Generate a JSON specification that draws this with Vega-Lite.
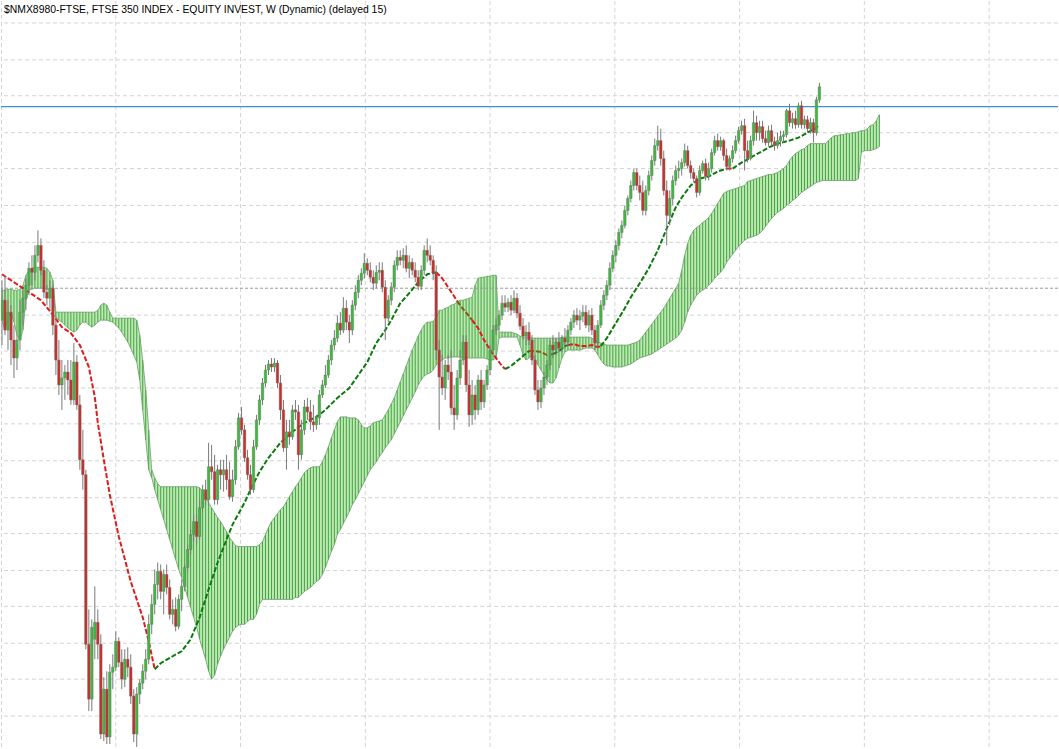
{
"$schema": "https://vega.github.io/schema/vega-lite/v6.json",
"width": 1059, "height": 749,
"autosize": {"type": "fit", "contains": "padding"},
"padding": 0,
"background": "white",
"config": {"view": {"stroke": null}, "axis": {"disable": true}, "scale": {"continuousPadding": 0}},
"layer": [
{
"data": {"values": [{"gy":978},{"gy":941},{"gy":905},{"gy":868},{"gy":832},{"gy":795},{"gy":758},{"gy":722},{"gy":685},{"gy":649},{"gy":612},{"gy":576},{"gy":539},{"gy":502},{"gy":466},{"gy":429},{"gy":393},{"gy":356},{"gy":320},{"gy":283}]},
"mark": {"type": "rule", "color": "#d4d4d4", "strokeDash": [4, 3], "strokeWidth": 1},
"encoding": {"y": {"field": "gy", "type": "quantitative", "scale": {"domain": [251, 1000], "nice": false, "zero": false, "padding": 0}, "axis": null}}
},
{
"data": {"values": [{"gx":-0.1667},{"gx":38},{"gx":79.6667},{"gx":121.3333},{"gx":163},{"gx":204.6667},{"gx":246.3333},{"gx":288},{"gx":329.6667}]},
"mark": {"type": "rule", "color": "#d4d4d4", "strokeDash": [4, 3], "strokeWidth": 1},
"encoding": {"x": {"field": "gx", "type": "quantitative", "scale": {"domain": [-0.3333, 352.6667], "nice": false, "zero": false, "padding": 0}, "axis": null}}
},
{
"data": {"values": [
{"i":0,"t":710,"b":680},{"i":1,"t":710,"b":670},{"i":2,"t":711,"b":682},{"i":3,"t":711,"b":688},{"i":4,"t":710,"b":678},{"i":5,"t":710,"b":665},{"i":6,"t":711,"b":660},{"i":7,"t":715,"b":670},{"i":8,"t":725,"b":700},{"i":9,"t":730,"b":710},
{"i":10,"t":732,"b":711},{"i":11,"t":733,"b":712},{"i":12,"t":733,"b":712},{"i":13,"t":733,"b":712},{"i":14,"t":733,"b":712},{"i":15,"t":732,"b":711},{"i":16,"t":728,"b":711},{"i":17,"t":720,"b":710},{"i":18,"t":688,"b":682},{"i":19,"t":688,"b":680},
{"i":20,"t":688,"b":678},{"i":21,"t":688,"b":675},{"i":22,"t":688,"b":672},{"i":23,"t":688,"b":670},{"i":24,"t":688,"b":668},{"i":25,"t":688,"b":670},{"i":26,"t":688,"b":675},{"i":27,"t":688,"b":678},{"i":28,"t":688,"b":678},{"i":29,"t":688,"b":675},
{"i":30,"t":688,"b":673},{"i":31,"t":688,"b":675},{"i":32,"t":690,"b":678},{"i":33,"t":695,"b":680},{"i":34,"t":697,"b":680},{"i":35,"t":695,"b":680},{"i":36,"t":688,"b":679},{"i":37,"t":682,"b":678},{"i":38,"t":682,"b":675},{"i":39,"t":682,"b":672},
{"i":40,"t":682,"b":668},{"i":41,"t":682,"b":663},{"i":42,"t":682,"b":658},{"i":43,"t":682,"b":652},{"i":44,"t":682,"b":645},{"i":45,"t":680,"b":638},{"i":46,"t":665,"b":620},{"i":47,"t":640,"b":590},{"i":48,"t":610,"b":560},{"i":49,"t":570,"b":530},
{"i":50,"t":530,"b":522},{"i":51,"t":522,"b":510},{"i":52,"t":516,"b":500},{"i":53,"t":513,"b":490},{"i":54,"t":513,"b":480},{"i":55,"t":513,"b":470},{"i":56,"t":513,"b":460},{"i":57,"t":513,"b":450},{"i":58,"t":513,"b":440},{"i":59,"t":513,"b":430},
{"i":60,"t":513,"b":422},{"i":61,"t":513,"b":412},{"i":62,"t":513,"b":402},{"i":63,"t":513,"b":392},{"i":64,"t":513,"b":382},{"i":65,"t":513,"b":372},{"i":66,"t":512,"b":360},{"i":67,"t":508,"b":350},{"i":68,"t":503,"b":340},{"i":69,"t":497,"b":328},
{"i":70,"t":492,"b":320},{"i":71,"t":487,"b":324},{"i":72,"t":482,"b":335},{"i":73,"t":478,"b":343},{"i":74,"t":473,"b":350},{"i":75,"t":468,"b":356},{"i":76,"t":462,"b":362},{"i":77,"t":458,"b":368},{"i":78,"t":454,"b":372},{"i":79,"t":453,"b":374},
{"i":80,"t":453,"b":375},{"i":81,"t":453,"b":375},{"i":82,"t":453,"b":378},{"i":83,"t":453,"b":380},{"i":84,"t":453,"b":380},{"i":85,"t":453,"b":385},{"i":86,"t":455,"b":395},{"i":87,"t":458,"b":400},{"i":88,"t":465,"b":400},{"i":89,"t":472,"b":400},
{"i":90,"t":478,"b":400},{"i":91,"t":482,"b":400},{"i":92,"t":486,"b":400},{"i":93,"t":490,"b":400},{"i":94,"t":493,"b":400},{"i":95,"t":498,"b":400},{"i":96,"t":503,"b":400},{"i":97,"t":508,"b":400},{"i":98,"t":513,"b":402},{"i":99,"t":517,"b":402},
{"i":100,"t":522,"b":405},{"i":101,"t":527,"b":408},{"i":102,"t":530,"b":410},{"i":103,"t":532,"b":412},{"i":104,"t":533,"b":415},{"i":105,"t":533,"b":418},{"i":106,"t":533,"b":420},{"i":107,"t":538,"b":425},{"i":108,"t":545,"b":432},{"i":109,"t":553,"b":440},
{"i":110,"t":562,"b":448},{"i":111,"t":570,"b":455},{"i":112,"t":578,"b":465},{"i":113,"t":583,"b":470},{"i":114,"t":583,"b":476},{"i":115,"t":583,"b":482},{"i":116,"t":582,"b":488},{"i":117,"t":582,"b":495},{"i":118,"t":582,"b":500},{"i":119,"t":580,"b":506},
{"i":120,"t":575,"b":512},{"i":121,"t":572,"b":518},{"i":122,"t":572,"b":524},{"i":123,"t":574,"b":530},{"i":124,"t":577,"b":534},{"i":125,"t":578,"b":538},{"i":126,"t":579,"b":543},{"i":127,"t":580,"b":547},{"i":128,"t":585,"b":552},{"i":129,"t":590,"b":556},
{"i":130,"t":596,"b":560},{"i":131,"t":602,"b":566},{"i":132,"t":610,"b":572},{"i":133,"t":618,"b":578},{"i":134,"t":626,"b":584},{"i":135,"t":634,"b":590},{"i":136,"t":642,"b":596},{"i":137,"t":650,"b":602},{"i":138,"t":657,"b":608},{"i":139,"t":664,"b":615},
{"i":140,"t":670,"b":620},{"i":141,"t":675,"b":624},{"i":142,"t":678,"b":626},{"i":143,"t":678,"b":627},{"i":144,"t":679,"b":630},{"i":145,"t":682,"b":635},{"i":146,"t":690,"b":638},{"i":147,"t":690,"b":640},{"i":148,"t":692,"b":642},{"i":149,"t":693,"b":642},
{"i":150,"t":695,"b":643},{"i":151,"t":696,"b":643},{"i":152,"t":698,"b":643},{"i":153,"t":700,"b":643},{"i":154,"t":700,"b":642},{"i":155,"t":701,"b":642},{"i":156,"t":702,"b":642},{"i":157,"t":703,"b":642},{"i":158,"t":715,"b":642},{"i":159,"t":722,"b":642},
{"i":160,"t":723,"b":642},{"i":161,"t":723,"b":642},{"i":162,"t":724,"b":641},{"i":163,"t":724,"b":640},{"i":164,"t":725,"b":640},{"i":165,"t":725,"b":642},{"i":166,"t":668,"b":662},{"i":167,"t":668,"b":663},{"i":168,"t":668,"b":663},{"i":169,"t":668,"b":663},
{"i":170,"t":668,"b":663},{"i":171,"t":667,"b":663},{"i":172,"t":666,"b":663},{"i":173,"t":664,"b":655},{"i":174,"t":663,"b":645},{"i":175,"t":663,"b":640},{"i":176,"t":663,"b":642},{"i":177,"t":662,"b":645},{"i":178,"t":662,"b":640},{"i":179,"t":662,"b":635},
{"i":180,"t":662,"b":630},{"i":181,"t":662,"b":625},{"i":182,"t":662,"b":620},{"i":183,"t":662,"b":617},{"i":184,"t":662,"b":617},{"i":185,"t":662,"b":622},{"i":186,"t":662,"b":632},{"i":187,"t":663,"b":642},{"i":188,"t":663,"b":648},{"i":189,"t":663,"b":650},
{"i":190,"t":663,"b":650},{"i":191,"t":663,"b":650},{"i":192,"t":663,"b":650},{"i":193,"t":663,"b":650},{"i":194,"t":663,"b":651},{"i":195,"t":663,"b":652},{"i":196,"t":663,"b":652},{"i":197,"t":662,"b":652},{"i":198,"t":660,"b":650},{"i":199,"t":658,"b":645},
{"i":200,"t":657,"b":640},{"i":201,"t":656,"b":636},{"i":202,"t":655,"b":634},{"i":203,"t":655,"b":634},{"i":204,"t":655,"b":633},{"i":205,"t":655,"b":633},{"i":206,"t":655,"b":633},{"i":207,"t":655,"b":633},{"i":208,"t":655,"b":634},{"i":209,"t":655,"b":635},
{"i":210,"t":656,"b":636},{"i":211,"t":657,"b":638},{"i":212,"t":658,"b":640},{"i":213,"t":660,"b":642},{"i":214,"t":664,"b":643},{"i":215,"t":668,"b":644},{"i":216,"t":672,"b":645},{"i":217,"t":676,"b":646},{"i":218,"t":680,"b":648},{"i":219,"t":684,"b":650},
{"i":220,"t":688,"b":652},{"i":221,"t":692,"b":654},{"i":222,"t":697,"b":656},{"i":223,"t":702,"b":658},{"i":224,"t":707,"b":660},{"i":225,"t":712,"b":662},{"i":226,"t":717,"b":665},{"i":227,"t":730,"b":670},{"i":228,"t":745,"b":678},{"i":229,"t":757,"b":688},
{"i":230,"t":765,"b":695},{"i":231,"t":770,"b":700},{"i":232,"t":773,"b":705},{"i":233,"t":775,"b":708},{"i":234,"t":778,"b":710},{"i":235,"t":780,"b":712},{"i":236,"t":783,"b":715},{"i":237,"t":787,"b":718},{"i":238,"t":792,"b":722},{"i":239,"t":797,"b":725},
{"i":240,"t":802,"b":728},{"i":241,"t":807,"b":732},{"i":242,"t":809,"b":738},{"i":243,"t":810,"b":742},{"i":244,"t":811,"b":746},{"i":245,"t":812,"b":750},{"i":246,"t":813,"b":754},{"i":247,"t":814,"b":757},{"i":248,"t":815,"b":760},{"i":249,"t":819,"b":762},
{"i":250,"t":820,"b":763},{"i":251,"t":821,"b":764},{"i":252,"t":822,"b":765},{"i":253,"t":823,"b":767},{"i":254,"t":824,"b":770},{"i":255,"t":825,"b":774},{"i":256,"t":826,"b":778},{"i":257,"t":826,"b":782},{"i":258,"t":827,"b":785},{"i":259,"t":828,"b":788},
{"i":260,"t":830,"b":790},{"i":261,"t":832,"b":792},{"i":262,"t":835,"b":795},{"i":263,"t":840,"b":797},{"i":264,"t":844,"b":800},{"i":265,"t":847,"b":802},{"i":266,"t":849,"b":805},{"i":267,"t":851,"b":808},{"i":268,"t":852,"b":810},{"i":269,"t":855,"b":812},
{"i":270,"t":857,"b":814},{"i":271,"t":857,"b":816},{"i":272,"t":857,"b":818},{"i":273,"t":857,"b":819},{"i":274,"t":857,"b":820},{"i":275,"t":857,"b":820},{"i":276,"t":860,"b":820},{"i":277,"t":863,"b":820},{"i":278,"t":865,"b":820},{"i":279,"t":865,"b":820},
{"i":280,"t":866,"b":820},{"i":281,"t":866,"b":820},{"i":282,"t":867,"b":820},{"i":283,"t":867,"b":820},{"i":284,"t":868,"b":820},{"i":285,"t":868,"b":820},{"i":286,"t":869,"b":822},{"i":287,"t":870,"b":848},{"i":288,"t":870,"b":850},{"i":289,"t":872,"b":850},
{"i":290,"t":875,"b":850},{"i":291,"t":876,"b":851},{"i":292,"t":880,"b":852},{"i":293,"t":886,"b":854}
]},
"encoding": {
"x": {"field": "i", "type": "quantitative", "scale": {"domain": [-0.3333, 352.6667], "nice": false, "zero": false, "padding": 0}, "axis": null},
"y": {"field": "t", "type": "quantitative", "scale": {"domain": [251, 1000], "nice": false, "zero": false, "padding": 0}, "axis": null}
},
"layer": [
{"mark": {"type": "area", "color": "#bde8b2", "opacity": 1, "clip": true}, "encoding": {"y2": {"field": "b"}}},
{"mark": {"type": "rule", "color": "#45a445", "strokeWidth": 1, "clip": true}, "encoding": {"y2": {"field": "b"}}},
{"mark": {"type": "line", "color": "#6a9e6a", "strokeWidth": 0.8, "clip": true}, "encoding": {}},
{"mark": {"type": "line", "color": "#6a9e6a", "strokeWidth": 0.8, "clip": true}, "encoding": {"y": {"field": "b", "type": "quantitative", "scale": {"domain": [251, 1000], "nice": false, "zero": false, "padding": 0}, "axis": null}}}
]
},
{
"data": {"values": [{"level": 712}]},
"mark": {"type": "rule", "color": "#9a9a9a", "strokeDash": [3, 2], "strokeWidth": 1},
"encoding": {"y": {"field": "level", "type": "quantitative", "scale": {"domain": [251, 1000], "nice": false, "zero": false, "padding": 0}, "axis": null}}
},
{
"data": {"values": [{"level": 894}]},
"mark": {"type": "rule", "color": "#3a8fd8", "strokeWidth": 1.2},
"encoding": {"y": {"field": "level", "type": "quantitative", "scale": {"domain": [251, 1000], "nice": false, "zero": false, "padding": 0}, "axis": null}}
},
{
"data": {"values": [
{"i":0,"v":726,"s":"A","d":"down"},{"i":6,"v":714,"s":"A","d":"down"},{"i":13,"v":700,"s":"A","d":"down"},{"i":16,"v":689,"s":"A","d":"down"},{"i":20,"v":673,"s":"A","d":"down"},{"i":23,"v":667,"s":"A","d":"down"},{"i":26,"v":655,"s":"A","d":"down"},{"i":29,"v":633,"s":"A","d":"down"},{"i":31,"v":603,"s":"A","d":"down"},{"i":32,"v":577,"s":"A","d":"down"},{"i":34,"v":540,"s":"A","d":"down"},{"i":36,"v":505,"s":"A","d":"down"},{"i":39,"v":463,"s":"A","d":"down"},{"i":43,"v":418,"s":"A","d":"down"},{"i":47,"v":382,"s":"A","d":"down"},{"i":49,"v":358,"s":"A","d":"down"},{"i":51,"v":330,"s":"A","d":"down"},
{"i":51,"v":330,"s":"B","d":"up"},{"i":53,"v":336,"s":"B","d":"up"},{"i":57,"v":343,"s":"B","d":"up"},{"i":60,"v":348,"s":"B","d":"up"},{"i":63,"v":360,"s":"B","d":"up"},{"i":66,"v":382,"s":"B","d":"up"},{"i":69,"v":410,"s":"B","d":"up"},{"i":72,"v":437,"s":"B","d":"up"},{"i":75,"v":460,"s":"B","d":"up"},{"i":77,"v":475,"s":"B","d":"up"},{"i":81,"v":497,"s":"B","d":"up"},{"i":83,"v":510,"s":"B","d":"up"},{"i":86,"v":528,"s":"B","d":"up"},{"i":89,"v":542,"s":"B","d":"up"},{"i":93,"v":557,"s":"B","d":"up"},{"i":97,"v":568,"s":"B","d":"up"},{"i":101,"v":577,"s":"B","d":"up"},{"i":105,"v":583,"s":"B","d":"up"},{"i":108,"v":590,"s":"B","d":"up"},{"i":112,"v":602,"s":"B","d":"up"},{"i":116,"v":612,"s":"B","d":"up"},{"i":119,"v":625,"s":"B","d":"up"},{"i":122,"v":638,"s":"B","d":"up"},{"i":125,"v":657,"s":"B","d":"up"},{"i":128,"v":670,"s":"B","d":"up"},{"i":130,"v":680,"s":"B","d":"up"},{"i":133,"v":697,"s":"B","d":"up"},{"i":136,"v":707,"s":"B","d":"up"},{"i":139,"v":718,"s":"B","d":"up"},{"i":142,"v":726,"s":"B","d":"up"},{"i":145,"v":728,"s":"B","d":"up"},
{"i":145,"v":728,"s":"C","d":"down"},{"i":147,"v":722,"s":"C","d":"down"},{"i":149,"v":713,"s":"C","d":"down"},{"i":151,"v":704,"s":"C","d":"down"},{"i":152,"v":699,"s":"C","d":"down"},
{"i":152,"v":699,"s":"D","d":"flat"},{"i":154,"v":691,"s":"D","d":"flat"},{"i":156,"v":684,"s":"D","d":"flat"},{"i":157,"v":680,"s":"D","d":"flat"},
{"i":157,"v":680,"s":"E","d":"down"},{"i":159,"v":672,"s":"E","d":"down"},{"i":161,"v":660,"s":"E","d":"down"},{"i":163,"v":650,"s":"E","d":"down"},{"i":165,"v":642,"s":"E","d":"down"},{"i":167,"v":634,"s":"E","d":"down"},{"i":168,"v":631,"s":"E","d":"down"},
{"i":168,"v":631,"s":"F","d":"up"},{"i":170,"v":634,"s":"F","d":"up"},{"i":172,"v":639,"s":"F","d":"up"},{"i":174,"v":644,"s":"F","d":"up"},{"i":176,"v":649,"s":"F","d":"up"},
{"i":176,"v":649,"s":"G","d":"flat"},{"i":178,"v":649,"s":"G","d":"flat"},{"i":180,"v":648,"s":"G","d":"flat"},{"i":182,"v":645,"s":"G","d":"flat"},{"i":184,"v":646,"s":"G","d":"flat"},
{"i":184,"v":646,"s":"H","d":"up"},{"i":186,"v":649,"s":"H","d":"up"},{"i":188,"v":654,"s":"H","d":"up"},{"i":189,"v":655,"s":"H","d":"up"},
{"i":189,"v":655,"s":"I","d":"down"},{"i":191,"v":656,"s":"I","d":"down"},{"i":193,"v":654,"s":"I","d":"down"},{"i":195,"v":654,"s":"I","d":"down"},{"i":197,"v":655,"s":"I","d":"down"},{"i":199,"v":653,"s":"I","d":"down"},{"i":200,"v":654,"s":"I","d":"down"},
{"i":200,"v":654,"s":"J","d":"up"},{"i":202,"v":662,"s":"J","d":"up"},{"i":204,"v":672,"s":"J","d":"up"},{"i":206,"v":682,"s":"J","d":"up"},{"i":208,"v":692,"s":"J","d":"up"},{"i":210,"v":703,"s":"J","d":"up"},{"i":213,"v":717,"s":"J","d":"up"},{"i":216,"v":732,"s":"J","d":"up"},{"i":219,"v":750,"s":"J","d":"up"},{"i":222,"v":772,"s":"J","d":"up"},{"i":225,"v":793,"s":"J","d":"up"},{"i":227,"v":803,"s":"J","d":"up"},{"i":230,"v":815,"s":"J","d":"up"},{"i":233,"v":822,"s":"J","d":"up"},{"i":236,"v":824,"s":"J","d":"up"},{"i":239,"v":829,"s":"J","d":"up"},{"i":242,"v":832,"s":"J","d":"up"},
{"i":242,"v":832,"s":"K","d":"down"},{"i":244,"v":832,"s":"K","d":"down"},
{"i":244,"v":832,"s":"L","d":"up"},{"i":247,"v":838,"s":"L","d":"up"},{"i":250,"v":843,"s":"L","d":"up"},{"i":253,"v":848,"s":"L","d":"up"},{"i":256,"v":853,"s":"L","d":"up"},{"i":259,"v":857,"s":"L","d":"up"},{"i":263,"v":860,"s":"L","d":"up"},{"i":266,"v":863,"s":"L","d":"up"},{"i":269,"v":868,"s":"L","d":"up"},{"i":272,"v":873,"s":"L","d":"up"},{"i":273,"v":876,"s":"L","d":"up"}
]},
"mark": {"type": "line", "strokeWidth": 2, "strokeDash": [5, 2], "clip": true},
"encoding": {
"x": {"field": "i", "type": "quantitative", "scale": {"domain": [-0.3333, 352.6667], "nice": false, "zero": false, "padding": 0}, "axis": null},
"y": {"field": "v", "type": "quantitative", "scale": {"domain": [251, 1000], "nice": false, "zero": false, "padding": 0}, "axis": null},
"detail": {"field": "s"},
"color": {"field": "d", "type": "nominal", "scale": {"domain": ["up", "down", "flat"], "range": ["#0b7a0b", "#e01b1b", "#8a5a12"]}, "legend": null}
}
},
{
"data": {"values": [
{"i":0,"o":680,"h":720,"l":655,"c":700},{"i":1,"o":700,"h":725,"l":665,"c":670},{"i":2,"o":670,"h":700,"l":650,"c":688},{"i":3,"o":688,"h":695,"l":635,"c":660},{"i":4,"o":660,"h":675,"l":622,"c":642},{"i":5,"o":642,"h":665,"l":630,"c":660},{"i":6,"o":660,"h":700,"l":650,"c":688},{"i":7,"o":688,"h":710,"l":675,"c":702},{"i":8,"o":702,"h":722,"l":690,"c":715},{"i":9,"o":715,"h":738,"l":705,"c":732},
{"i":10,"o":732,"h":745,"l":715,"c":728},{"i":11,"o":728,"h":755,"l":720,"c":745},{"i":12,"o":745,"h":770,"l":738,"c":755},{"i":13,"o":755,"h":762,"l":725,"c":730},{"i":14,"o":730,"h":740,"l":702,"c":708},{"i":15,"o":708,"h":715,"l":695,"c":702},{"i":16,"o":702,"h":720,"l":690,"c":712},{"i":17,"o":712,"h":715,"l":665,"c":675},{"i":18,"o":675,"h":682,"l":625,"c":640},{"i":19,"o":640,"h":660,"l":605,"c":615},
{"i":20,"o":615,"h":640,"l":590,"c":622},{"i":21,"o":622,"h":635,"l":600,"c":628},{"i":22,"o":628,"h":640,"l":605,"c":620},{"i":23,"o":620,"h":640,"l":595,"c":600},{"i":24,"o":600,"h":657,"l":595,"c":638},{"i":25,"o":638,"h":645,"l":590,"c":595},{"i":26,"o":595,"h":605,"l":530,"c":540},{"i":27,"o":540,"h":570,"l":510,"c":525},{"i":28,"o":525,"h":530,"l":350,"c":355},{"i":29,"o":355,"h":390,"l":288,"c":300},
{"i":30,"o":300,"h":380,"l":288,"c":372},{"i":31,"o":360,"h":413,"l":340,"c":377},{"i":32,"o":377,"h":390,"l":340,"c":355},{"i":33,"o":355,"h":365,"l":260,"c":265},{"i":34,"o":265,"h":322,"l":258,"c":310},{"i":35,"o":310,"h":328,"l":255,"c":262},{"i":36,"o":262,"h":335,"l":255,"c":327},{"i":37,"o":327,"h":345,"l":310,"c":332},{"i":38,"o":332,"h":368,"l":328,"c":358},{"i":39,"o":358,"h":362,"l":332,"c":337},
{"i":40,"o":337,"h":350,"l":310,"c":320},{"i":41,"o":320,"h":350,"l":312,"c":340},{"i":42,"o":340,"h":352,"l":322,"c":332},{"i":43,"o":332,"h":345,"l":295,"c":303},{"i":44,"o":303,"h":310,"l":257,"c":265},{"i":45,"o":265,"h":312,"l":252,"c":305},{"i":46,"o":305,"h":320,"l":295,"c":316},{"i":47,"o":316,"h":335,"l":310,"c":328},{"i":48,"o":328,"h":350,"l":320,"c":340},{"i":49,"o":340,"h":385,"l":335,"c":375},
{"i":50,"o":375,"h":405,"l":365,"c":395},{"i":51,"o":395,"h":430,"l":385,"c":415},{"i":52,"o":415,"h":437,"l":400,"c":428},{"i":53,"o":428,"h":435,"l":400,"c":408},{"i":54,"o":408,"h":430,"l":385,"c":425},{"i":55,"o":425,"h":435,"l":405,"c":412},{"i":56,"o":412,"h":420,"l":380,"c":385},{"i":57,"o":385,"h":400,"l":375,"c":390},{"i":58,"o":390,"h":402,"l":368,"c":373},{"i":59,"o":373,"h":405,"l":370,"c":400},
{"i":60,"o":400,"h":420,"l":388,"c":413},{"i":61,"o":413,"h":435,"l":408,"c":432},{"i":62,"o":432,"h":455,"l":428,"c":450},{"i":63,"o":450,"h":470,"l":445,"c":465},{"i":64,"o":465,"h":485,"l":458,"c":478},{"i":65,"o":478,"h":485,"l":455,"c":463},{"i":66,"o":463,"h":500,"l":460,"c":492},{"i":67,"o":492,"h":515,"l":488,"c":510},{"i":68,"o":510,"h":520,"l":495,"c":500},{"i":69,"o":500,"h":557,"l":495,"c":533},
{"i":70,"o":533,"h":555,"l":520,"c":528},{"i":71,"o":528,"h":545,"l":495,"c":500},{"i":72,"o":500,"h":535,"l":495,"c":530},{"i":73,"o":530,"h":540,"l":510,"c":525},{"i":74,"o":525,"h":540,"l":508,"c":530},{"i":75,"o":530,"h":545,"l":510,"c":520},{"i":76,"o":520,"h":538,"l":500,"c":503},{"i":77,"o":503,"h":530,"l":498,"c":520},{"i":78,"o":520,"h":560,"l":515,"c":553},{"i":79,"o":553,"h":587,"l":550,"c":582},
{"i":80,"o":582,"h":593,"l":565,"c":570},{"i":81,"o":570,"h":575,"l":538,"c":542},{"i":82,"o":542,"h":550,"l":520,"c":525},{"i":83,"o":525,"h":535,"l":505,"c":510},{"i":84,"o":510,"h":560,"l":507,"c":553},{"i":85,"o":553,"h":585,"l":550,"c":580},{"i":86,"o":580,"h":605,"l":575,"c":600},{"i":87,"o":600,"h":622,"l":595,"c":617},{"i":88,"o":617,"h":635,"l":613,"c":630},{"i":89,"o":630,"h":640,"l":625,"c":636},
{"i":90,"o":636,"h":642,"l":628,"c":633},{"i":91,"o":633,"h":642,"l":628,"c":637},{"i":92,"o":637,"h":640,"l":612,"c":617},{"i":93,"o":617,"h":625,"l":580,"c":590},{"i":94,"o":590,"h":600,"l":548,"c":552},{"i":95,"o":552,"h":580,"l":530,"c":568},{"i":96,"o":568,"h":580,"l":555,"c":563},{"i":97,"o":563,"h":595,"l":560,"c":590},{"i":98,"o":590,"h":600,"l":580,"c":588},{"i":99,"o":588,"h":595,"l":530,"c":545},
{"i":100,"o":545,"h":580,"l":540,"c":570},{"i":101,"o":570,"h":600,"l":565,"c":593},{"i":102,"o":593,"h":602,"l":580,"c":588},{"i":103,"o":588,"h":600,"l":570,"c":578},{"i":104,"o":578,"h":595,"l":568,"c":575},{"i":105,"o":575,"h":585,"l":570,"c":582},{"i":106,"o":582,"h":610,"l":575,"c":605},{"i":107,"o":605,"h":620,"l":602,"c":615},{"i":108,"o":615,"h":635,"l":612,"c":625},{"i":109,"o":625,"h":645,"l":622,"c":640},
{"i":110,"o":640,"h":660,"l":635,"c":655},{"i":111,"o":655,"h":670,"l":650,"c":662},{"i":112,"o":662,"h":685,"l":658,"c":677},{"i":113,"o":677,"h":688,"l":665,"c":670},{"i":114,"o":670,"h":703,"l":667,"c":692},{"i":115,"o":692,"h":700,"l":670,"c":678},{"i":116,"o":678,"h":685,"l":657,"c":670},{"i":117,"o":670,"h":700,"l":665,"c":695},{"i":118,"o":695,"h":715,"l":690,"c":708},{"i":119,"o":708,"h":725,"l":702,"c":720},
{"i":120,"o":720,"h":732,"l":715,"c":727},{"i":121,"o":727,"h":747,"l":722,"c":737},{"i":122,"o":737,"h":742,"l":725,"c":730},{"i":123,"o":730,"h":738,"l":718,"c":723},{"i":124,"o":723,"h":730,"l":710,"c":717},{"i":125,"o":717,"h":735,"l":712,"c":728},{"i":126,"o":728,"h":738,"l":720,"c":730},{"i":127,"o":730,"h":738,"l":708,"c":713},{"i":128,"o":713,"h":720,"l":660,"c":682},{"i":129,"o":682,"h":705,"l":678,"c":700},
{"i":130,"o":700,"h":718,"l":695,"c":713},{"i":131,"o":713,"h":740,"l":708,"c":735},{"i":132,"o":735,"h":750,"l":730,"c":743},{"i":133,"o":743,"h":750,"l":735,"c":740},{"i":134,"o":740,"h":752,"l":732,"c":745},{"i":135,"o":745,"h":755,"l":728,"c":732},{"i":136,"o":732,"h":745,"l":722,"c":738},{"i":137,"o":738,"h":742,"l":725,"c":730},{"i":138,"o":730,"h":738,"l":718,"c":723},{"i":139,"o":723,"h":730,"l":710,"c":714},
{"i":140,"o":714,"h":735,"l":710,"c":730},{"i":141,"o":730,"h":755,"l":725,"c":750},{"i":142,"o":750,"h":762,"l":738,"c":745},{"i":143,"o":745,"h":755,"l":735,"c":740},{"i":144,"o":740,"h":745,"l":720,"c":727},{"i":145,"o":727,"h":735,"l":640,"c":650},{"i":146,"o":650,"h":660,"l":570,"c":623},{"i":147,"o":623,"h":645,"l":605,"c":612},{"i":148,"o":612,"h":640,"l":600,"c":635},{"i":149,"o":635,"h":645,"l":620,"c":628},
{"i":150,"o":628,"h":650,"l":585,"c":592},{"i":151,"o":592,"h":615,"l":570,"c":585},{"i":152,"o":585,"h":630,"l":580,"c":622},{"i":153,"o":622,"h":650,"l":615,"c":640},{"i":154,"o":640,"h":665,"l":635,"c":658},{"i":155,"o":658,"h":665,"l":608,"c":615},{"i":156,"o":615,"h":630,"l":573,"c":585},{"i":157,"o":585,"h":620,"l":575,"c":605},{"i":158,"o":605,"h":615,"l":580,"c":590},{"i":159,"o":590,"h":625,"l":585,"c":620},
{"i":160,"o":620,"h":630,"l":590,"c":598},{"i":161,"o":598,"h":620,"l":592,"c":615},{"i":162,"o":615,"h":635,"l":610,"c":630},{"i":163,"o":630,"h":655,"l":625,"c":650},{"i":164,"o":650,"h":675,"l":645,"c":670},{"i":165,"o":670,"h":682,"l":665,"c":675},{"i":166,"o":675,"h":690,"l":670,"c":685},{"i":167,"o":685,"h":705,"l":680,"c":697},{"i":168,"o":697,"h":705,"l":688,"c":693},{"i":169,"o":693,"h":702,"l":688,"c":698},
{"i":170,"o":698,"h":705,"l":685,"c":690},{"i":171,"o":690,"h":710,"l":687,"c":702},{"i":172,"o":702,"h":707,"l":682,"c":687},{"i":173,"o":687,"h":695,"l":670,"c":674},{"i":174,"o":674,"h":682,"l":660,"c":664},{"i":175,"o":664,"h":675,"l":655,"c":668},{"i":176,"o":668,"h":678,"l":655,"c":660},{"i":177,"o":660,"h":665,"l":635,"c":640},{"i":178,"o":640,"h":645,"l":605,"c":610},{"i":179,"o":610,"h":620,"l":590,"c":598},
{"i":180,"o":598,"h":620,"l":592,"c":612},{"i":181,"o":612,"h":628,"l":605,"c":623},{"i":182,"o":623,"h":640,"l":615,"c":635},{"i":183,"o":635,"h":660,"l":630,"c":655},{"i":184,"o":655,"h":665,"l":642,"c":650},{"i":185,"o":650,"h":662,"l":645,"c":658},{"i":186,"o":658,"h":668,"l":648,"c":652},{"i":187,"o":652,"h":665,"l":648,"c":662},{"i":188,"o":662,"h":672,"l":652,"c":658},{"i":189,"o":658,"h":675,"l":654,"c":670},
{"i":190,"o":670,"h":682,"l":665,"c":678},{"i":191,"o":678,"h":690,"l":672,"c":685},{"i":192,"o":685,"h":692,"l":675,"c":680},{"i":193,"o":680,"h":690,"l":670,"c":684},{"i":194,"o":684,"h":695,"l":678,"c":688},{"i":195,"o":688,"h":695,"l":672,"c":675},{"i":196,"o":675,"h":690,"l":668,"c":685},{"i":197,"o":685,"h":692,"l":665,"c":670},{"i":198,"o":670,"h":675,"l":650,"c":657},{"i":199,"o":657,"h":680,"l":652,"c":675},
{"i":200,"o":675,"h":700,"l":672,"c":695},{"i":201,"o":695,"h":710,"l":690,"c":705},{"i":202,"o":705,"h":720,"l":700,"c":715},{"i":203,"o":715,"h":738,"l":710,"c":732},{"i":204,"o":732,"h":750,"l":728,"c":745},{"i":205,"o":745,"h":760,"l":738,"c":755},{"i":206,"o":755,"h":772,"l":750,"c":768},{"i":207,"o":768,"h":780,"l":762,"c":775},{"i":208,"o":775,"h":795,"l":772,"c":790},{"i":209,"o":790,"h":805,"l":785,"c":802},
{"i":210,"o":802,"h":820,"l":798,"c":815},{"i":211,"o":815,"h":832,"l":810,"c":828},{"i":212,"o":828,"h":832,"l":810,"c":815},{"i":213,"o":815,"h":825,"l":800,"c":808},{"i":214,"o":808,"h":820,"l":785,"c":790},{"i":215,"o":790,"h":815,"l":785,"c":810},{"i":216,"o":810,"h":830,"l":805,"c":825},{"i":217,"o":825,"h":845,"l":820,"c":840},{"i":218,"o":840,"h":862,"l":835,"c":855},{"i":219,"o":855,"h":875,"l":850,"c":860},
{"i":220,"o":860,"h":872,"l":835,"c":842},{"i":221,"o":842,"h":850,"l":805,"c":810},{"i":222,"o":810,"h":820,"l":755,"c":785},{"i":223,"o":785,"h":810,"l":775,"c":802},{"i":224,"o":802,"h":825,"l":795,"c":820},{"i":225,"o":820,"h":835,"l":815,"c":830},{"i":226,"o":830,"h":840,"l":822,"c":832},{"i":227,"o":832,"h":842,"l":825,"c":838},{"i":228,"o":838,"h":857,"l":834,"c":850},{"i":229,"o":850,"h":855,"l":832,"c":835},
{"i":230,"o":835,"h":840,"l":822,"c":828},{"i":231,"o":828,"h":832,"l":818,"c":822},{"i":232,"o":822,"h":825,"l":803,"c":808},{"i":233,"o":808,"h":835,"l":805,"c":830},{"i":234,"o":830,"h":840,"l":827,"c":837},{"i":235,"o":837,"h":842,"l":820,"c":824},{"i":236,"o":824,"h":838,"l":820,"c":832},{"i":237,"o":832,"h":852,"l":828,"c":848},{"i":238,"o":848,"h":865,"l":845,"c":860},{"i":239,"o":860,"h":867,"l":850,"c":854},
{"i":240,"o":854,"h":864,"l":850,"c":860},{"i":241,"o":860,"h":862,"l":840,"c":845},{"i":242,"o":845,"h":852,"l":830,"c":834},{"i":243,"o":834,"h":845,"l":830,"c":842},{"i":244,"o":842,"h":855,"l":838,"c":850},{"i":245,"o":850,"h":865,"l":847,"c":860},{"i":246,"o":860,"h":874,"l":857,"c":870},{"i":247,"o":870,"h":880,"l":866,"c":875},{"i":248,"o":875,"h":882,"l":830,"c":850},{"i":249,"o":850,"h":860,"l":838,"c":842},
{"i":250,"o":842,"h":865,"l":840,"c":860},{"i":251,"o":860,"h":890,"l":855,"c":878},{"i":252,"o":878,"h":885,"l":860,"c":868},{"i":253,"o":868,"h":880,"l":860,"c":874},{"i":254,"o":874,"h":880,"l":858,"c":862},{"i":255,"o":862,"h":870,"l":855,"c":858},{"i":256,"o":858,"h":875,"l":854,"c":870},{"i":257,"o":870,"h":876,"l":855,"c":859},{"i":258,"o":859,"h":864,"l":850,"c":855},{"i":259,"o":855,"h":868,"l":852,"c":860},
{"i":260,"o":860,"h":870,"l":854,"c":864},{"i":261,"o":864,"h":870,"l":858,"c":866},{"i":262,"o":866,"h":892,"l":863,"c":890},{"i":263,"o":890,"h":897,"l":874,"c":878},{"i":264,"o":878,"h":888,"l":872,"c":882},{"i":265,"o":882,"h":890,"l":872,"c":876},{"i":266,"o":876,"h":898,"l":873,"c":895},{"i":267,"o":895,"h":900,"l":872,"c":876},{"i":268,"o":876,"h":885,"l":872,"c":881},{"i":269,"o":881,"h":885,"l":868,"c":872},
{"i":270,"o":872,"h":883,"l":867,"c":878},{"i":271,"o":878,"h":882,"l":858,"c":868},{"i":272,"o":868,"h":904,"l":865,"c":901},{"i":273,"o":901,"h":918,"l":898,"c":914}
]},
"encoding": {
"x": {"field": "i", "type": "quantitative", "scale": {"domain": [-0.3333, 352.6667], "nice": false, "zero": false, "padding": 0}, "axis": null}
},
"layer": [
{"mark": {"type": "rule", "color": "#7a7a7a", "strokeWidth": 1, "clip": true},
 "encoding": {"y": {"field": "l", "type": "quantitative", "scale": {"domain": [251, 1000], "nice": false, "zero": false, "padding": 0}, "axis": null}, "y2": {"field": "h"}}},
{"mark": {"type": "bar", "width": 2.6, "stroke": "#6e6e6e", "strokeWidth": 0.4, "clip": true},
 "encoding": {"y": {"field": "o", "type": "quantitative", "scale": {"domain": [251, 1000], "nice": false, "zero": false, "padding": 0}, "axis": null}, "y2": {"field": "c"},
  "color": {"condition": {"test": "datum.c >= datum.o", "value": "#3fb83f"}, "value": "#c8302c"}}}
]
},
{
"data": {"values": [{"label": "$NMX8980-FTSE, FTSE 350 INDEX - EQUITY INVEST, W (Dynamic) (delayed 15)", "px": 0.667, "py": 990.5}]},
"mark": {"type": "text", "align": "left", "baseline": "middle", "font": "Liberation Sans", "fontSize": 10.4, "color": "#000000"},
"encoding": {
"x": {"field": "px", "type": "quantitative", "scale": {"domain": [-0.3333, 352.6667], "nice": false, "zero": false, "padding": 0}, "axis": null},
"y": {"field": "py", "type": "quantitative", "scale": {"domain": [251, 1000], "nice": false, "zero": false, "padding": 0}, "axis": null},
"text": {"field": "label"}
}
}
]
}
